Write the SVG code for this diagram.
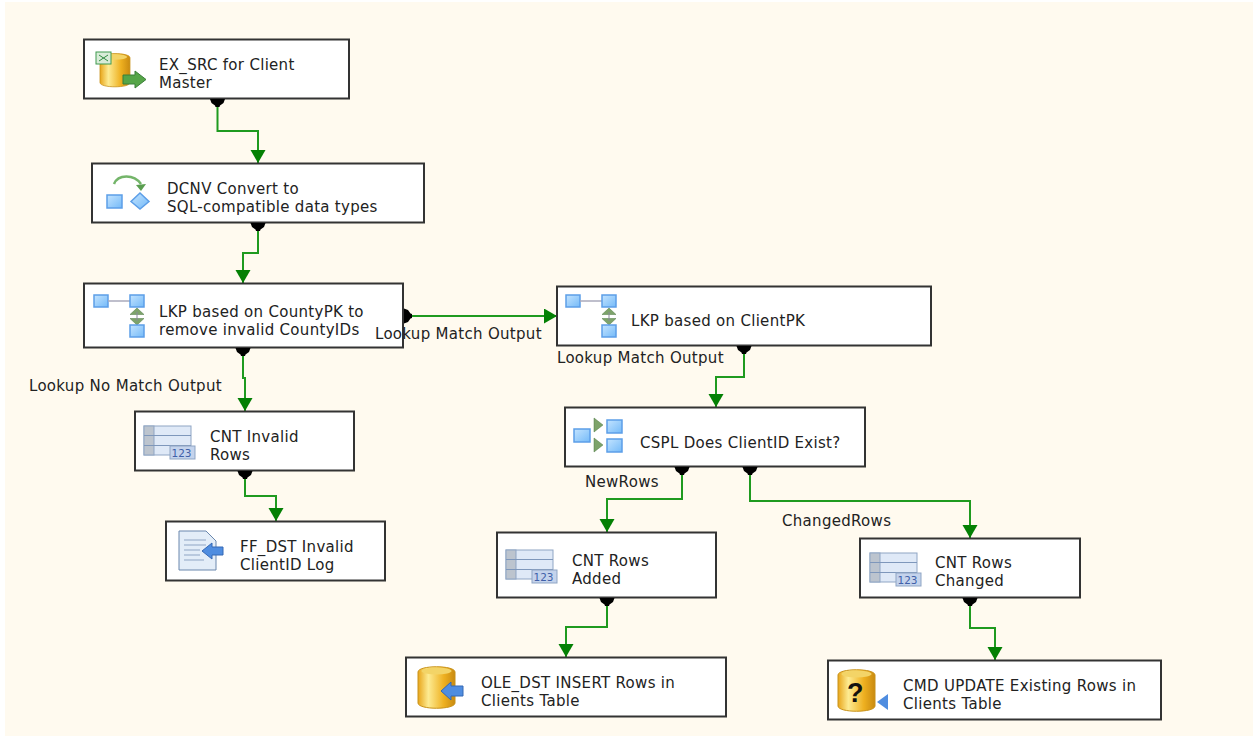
<svg xmlns="http://www.w3.org/2000/svg" width="1253" height="736" viewBox="0 0 1253 736">
<style>
.box{fill:#fff;stroke:#333;stroke-width:2}
text{font-family:"DejaVu Sans",Verdana,sans-serif;font-size:15px;letter-spacing:.3px;fill:#222}
.c{fill:none;stroke:#1f9a1f;stroke-width:2}
.blue{fill:url(#bl);stroke:#5c9ee8;stroke-width:1.500}
.link{stroke:#aab;stroke-width:1.500;fill:none}
.grn{fill:#7da36a;stroke:#4f7a45;stroke-width:.5}
</style>
<defs>
<marker id="arr" markerUnits="userSpaceOnUse" markerWidth="16" markerHeight="16" refX="13" refY="7.500" orient="auto"><path d="M0 0L13 7.500L0 15Z" fill="#048004"/></marker>
<linearGradient id="bl" x1="0" y1="0" x2="1" y2="1"><stop offset="0" stop-color="#c4e4ff"/><stop offset="1" stop-color="#74baf8"/></linearGradient>
<linearGradient id="gold" x1="0" y1="0" x2="1" y2="0"><stop offset="0" stop-color="#e8a51a"/><stop offset=".28" stop-color="#fdeb92"/><stop offset=".7" stop-color="#eeb020"/><stop offset="1" stop-color="#c98a10"/></linearGradient>
<path id="dot" d="M-7.500 0H7.500L6 4 2.500 6.500 2 8H-2L-2.500 6.500-6 4Z" fill="#000"/>
<g id="lkpicon"><rect class="blue" x="0" y="0" width="14" height="12"/><path class="link" d="M14 6H36"/><rect class="blue" x="36" y="0" width="14" height="12"/><path class="grn" d="M43 13L50 19.500H36ZM36 23.500H50L43 30Z"/><path d="M43 17V26" stroke="#889" fill="none"/><rect class="blue" x="36" y="30" width="14" height="12"/></g>
<g id="cnticon"><rect x="0" y="0" width="47" height="29" fill="#dfe9f7" stroke="#8fa5c4"/><rect x="0" y="0" width="10" height="29" fill="#bcc4ce" stroke="#8fa5c4"/><path d="M0 9.500H47M0 19.500H47" stroke="#7e97bb"/><rect x="26" y="20" width="25" height="13" fill="#c4d3ec" stroke="#8fa5c4"/><text x="27.500" y="31" style="font-size:10.500px;letter-spacing:0;fill:#4060a8">123</text></g>
<g id="cyl"><path d="M0 6C0-1 37-1 37 6V37C37 44 0 44 0 37Z" fill="url(#gold)" stroke="#c8921a"/><ellipse cx="18.500" cy="5" rx="15" ry="3.500" fill="#f3d467"/></g>
</defs>
<rect width="1253" height="736" fill="#fff"/>
<rect x="5" y="2" width="1248" height="734" fill="#fffaef"/>
<g id="connectors">
<path class="c" d="M217.500 100V131H258V163" marker-end="url(#arr)"/>
<path class="c" d="M258 224V253H243V283" marker-end="url(#arr)"/>
<path class="c" d="M243 350V378H245V411" marker-end="url(#arr)"/>
<path class="c" d="M245 472V496H276V521" marker-end="url(#arr)"/>
<path class="c" d="M405 316H557" marker-end="url(#arr)"/>
<path class="c" d="M744 347V377H716V407" marker-end="url(#arr)"/>
<path class="c" d="M682 468V499H607V532" marker-end="url(#arr)"/>
<path class="c" d="M750 468V501H970V538" marker-end="url(#arr)"/>
<path class="c" d="M607 599V627H566V657" marker-end="url(#arr)"/>
<path class="c" d="M970 599V628H995V660" marker-end="url(#arr)"/>
</g>
<g id="n-ex-src"><rect class="box" x="84" y="39.500" width="265" height="59"/>
<use href="#cyl" transform="translate(100 53) scale(.81 .8)"/><rect x="96" y="52" width="15" height="12" fill="#d8ecd8" stroke="#3f9a4f"/><path d="M99 55L108 61M108 55L99 61" stroke="#2f8a3f"/><path d="M123 75H135V71L146 79.500L135 88V84H123Z" fill="#55a548" stroke="#3a7f38"/>
<text x="159" y="70">EX_SRC for Client</text><text x="159" y="88">Master</text><use href="#dot" x="217.500" y="99"/></g>
<g id="n-dcnv"><rect class="box" x="92" y="163.500" width="332" height="59"/>
<rect class="blue" x="107" y="195" width="15" height="13"/><path class="blue" d="M140 193L149 201.500L140 209L131 201.500Z"/><path d="M114 184C118 174 134 174 141 184" fill="none" stroke="#74b56a" stroke-width="2.500"/><path d="M136 185L146 184L141 191Z" fill="#5a9e50"/>
<text x="167" y="194">DCNV Convert to</text><text x="167" y="212">SQL-compatible data types</text><use href="#dot" x="258" y="223"/></g>
<g id="n-lkp-county"><rect class="box" x="84" y="283.500" width="319" height="64"/>
<use href="#lkpicon" x="94" y="295"/>
<text x="159" y="317">LKP based on CountyPK to</text><text x="159" y="335">remove invalid CountyIDs</text><use href="#dot" x="243" y="348"/><use href="#dot" transform="translate(404 316) rotate(-90)"/></g>
<g id="n-cnt-invalid"><rect class="box" x="135" y="411.500" width="219" height="59"/>
<use href="#cnticon" x="144" y="426"/>
<text x="210" y="442">CNT Invalid</text><text x="210" y="460">Rows</text><use href="#dot" x="245" y="471"/></g>
<g id="n-ff-dst"><rect class="box" x="166" y="521.500" width="219" height="59"/>
<path d="M179 531H206L216 541V570H179Z" fill="#e3edf8" stroke="#6a87ad"/><path d="M184 540H206M184 545H206M184 550H200M184 555H200M184 560H204" stroke="#8fa5c4"/><path d="M202 551L212 543V547H223V555H212V559Z" fill="#4f8de0" stroke="#3568b5"/>
<text x="240" y="552">FF_DST Invalid</text><text x="240" y="570">ClientID Log</text></g>
<g id="n-lkp-client"><rect class="box" x="557" y="286.500" width="374" height="59"/>
<use href="#lkpicon" x="566" y="295"/>
<text x="631" y="326">LKP based on ClientPK</text><use href="#dot" x="744" y="346"/></g>
<g id="n-cspl"><rect class="box" x="565" y="407.500" width="300" height="59"/>
<rect class="blue" x="574" y="429" width="16" height="13"/><path class="grn" d="M594 418L594 432L603 425ZM594 438V452L603 445Z"/><rect class="blue" x="607" y="420" width="15" height="13"/><rect class="blue" x="607" y="439" width="15" height="13"/>
<text x="640" y="448">CSPL Does ClientID Exist?</text><use href="#dot" x="682" y="467"/><use href="#dot" x="750" y="467"/></g>
<g id="n-cnt-added"><rect class="box" x="497" y="532.500" width="219" height="65"/>
<use href="#cnticon" x="506" y="550"/>
<text x="572" y="566">CNT Rows</text><text x="572" y="584">Added</text><use href="#dot" x="607" y="598"/></g>
<g id="n-cnt-changed"><rect class="box" x="860" y="538.500" width="220" height="59"/>
<use href="#cnticon" x="870" y="553"/>
<text x="935" y="568">CNT Rows</text><text x="935" y="586">Changed</text><use href="#dot" x="970" y="598"/></g>
<g id="n-ole-dst"><rect class="box" x="406" y="657.500" width="320" height="59"/>
<use href="#cyl" x="418" y="666"/><path d="M441 691L451 682V686H463V696H451V700Z" fill="#4f8de0" stroke="#3568b5"/>
<text x="481" y="688">OLE_DST INSERT Rows in</text><text x="481" y="706">Clients Table</text></g>
<g id="n-cmd"><rect class="box" x="828" y="660.500" width="333" height="59"/>
<use href="#cyl" x="838" y="669"/><text x="847" y="702" style="font-family:'Liberation Sans',sans-serif;font-size:27px;letter-spacing:0;font-weight:bold;fill:#111">?</text><path d="M888 694L877 702L888 710Z" fill="#4f8de0"/>
<text x="903" y="691">CMD UPDATE Existing Rows in</text><text x="903" y="709">Clients Table</text></g>
<g id="labels">
<text x="29" y="391">Lookup No Match Output</text>
<text x="375" y="339">Lookup Match Output</text>
<text x="557" y="363">Lookup Match Output</text>
<text x="585" y="487">NewRows</text>
<text x="782" y="526">ChangedRows</text>
</g>
</svg>
